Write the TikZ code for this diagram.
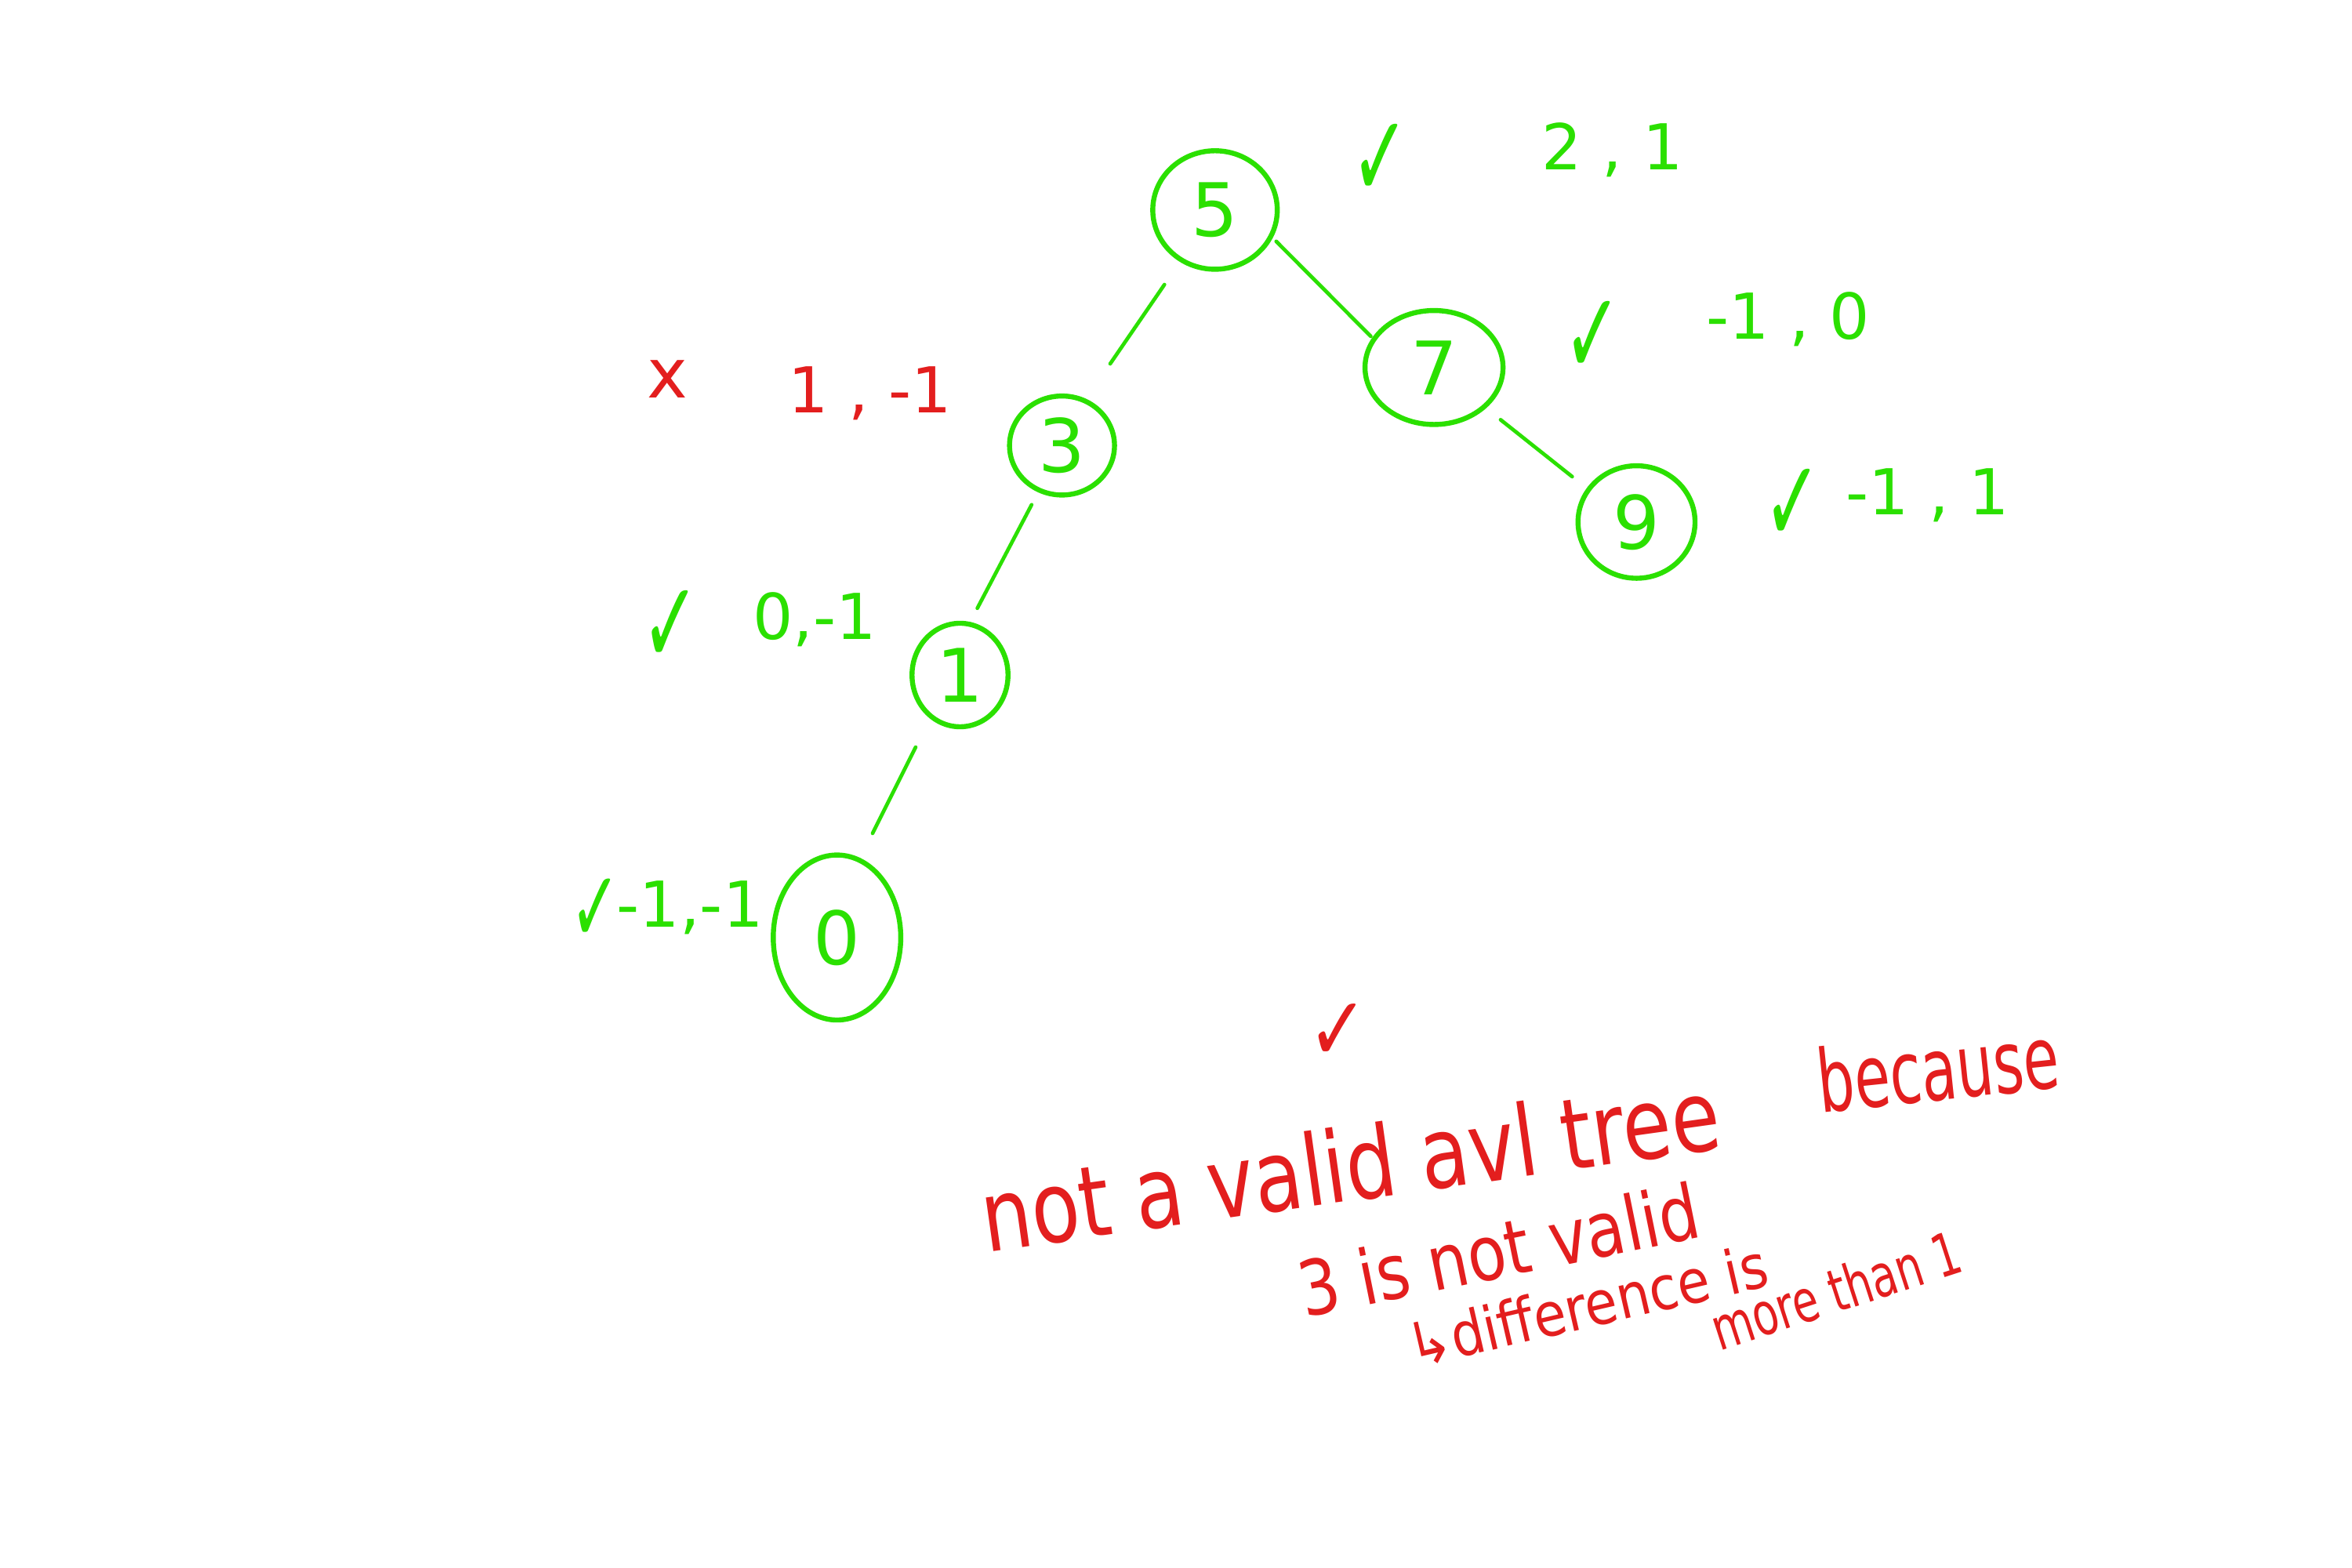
\documentclass[tikz,border=0pt]{standalone}
\usepackage{fontspec}
\setmainfont{DejaVu Sans}
\usepackage{graphicx}
\usetikzlibrary{shapes.geometric}
\definecolor{grn}{HTML}{2BE000}
\definecolor{rd}{HTML}{E31E1E}
\newcommand\fs[1]{\fontsize{#1}{#1}\selectfont}
\newcommand\mychk{\scalebox{0.6}[1]{✓}}
\newcommand\tall[2]{\scalebox{1}[#1]{#2}}
\begin{document}
\begin{tikzpicture}[
  tn/.style={ellipse, draw=grn, line width=0.95pt, inner sep=0pt, outer sep=0pt, text=grn, font=\fs{14}},
  edge/.style={draw=grn, line width=0.7pt, line cap=round},
  gl/.style={text=grn, inner sep=0pt, font=\fs{12}},
  rl/.style={text=rd, inner sep=0pt, font=\fs{12}},
  gck/.style={text=grn, inner sep=0pt, font=\fs{22}},
]
\useasboundingbox (0,0) rectangle (15.68,-10.45);
\fill[white] (0,0) rectangle (15.68,-10.45);

% tree nodes
\node[tn, minimum width=0.83cm, minimum height=0.79cm] (n5) at (8.10,-1.40) {5};
\node[tn, minimum width=0.92cm, minimum height=0.76cm] (n7) at (9.56,-2.45) {7};
\node[tn, minimum width=0.78cm, minimum height=0.75cm] (n9) at (10.91,-3.48) {9};
\node[tn, minimum width=0.70cm, minimum height=0.66cm] (n3) at (7.08,-2.97) {3};
\node[tn, minimum width=0.64cm, minimum height=0.69cm] (n1) at (6.40,-4.50) {1};
\node[tn, minimum width=0.85cm, minimum height=1.10cm] (n0) at (5.58,-6.25) {0};

% edges
\draw[edge, shorten <=0.2cm, shorten >=0.3cm] (n5.236) -- (n3.63);
\draw[edge, shorten <=0.05cm, shorten >=0.03cm] (n5.-25) -- (n7.155);
\draw[edge, shorten <=0.14cm, shorten >=0.14cm] (n7.-38) -- (n9.146);
\draw[edge, shorten <=0.11cm, shorten >=0.12cm] (n3.243) -- (n1.80);
\draw[edge, shorten <=0.23cm, shorten >=0.2cm] (n1.235) -- (n0.74);

% balance labels
\node[gck] (c5) at (9.20,-1.07) {\mychk};
\node[gl] (b5) at (10.75,-1.00) {2 , 1};
\node[gck] (c7) at (10.62,-2.25) {\mychk};
\node[gl] (b7) at (11.92,-2.13) {-1 , 0};
\node[gck] (c9) at (11.95,-3.37) {\mychk};
\node[gl] (b9) at (12.85,-3.30) {-1 , 1};
\node[rl, font=\fs{13}] (x3) at (4.45,-2.53) {x};
\node[rl] (b3) at (5.80,-2.62) {1 , -1};
\node[gck] (c1) at (4.47,-4.18) {\mychk};
\node[gl] (b1) at (5.43,-4.13) {0,-1};
\node[gck, font=\fs{19}] (c0) at (3.97,-6.07) {\mychk};
\node[gl] (b0) at (4.60,-6.05) {-1,-1};

% notes
\node[rl, font=\fs{17}] (rc) at (8.92,-6.88) {\scalebox{0.8}[1]{✓}};
\node[rl, font=\fs{15}, rotate=8] (t1) at (9.00,-7.76) {\tall{1.25}{not a valid avl tree}};
\node[rl, font=\fs{11}, rotate=6] (t2) at (12.92,-7.12) {\tall{1.5}{because}};
\node[rl, font=\fs{12}, rotate=11.5] (t3) at (9.99,-8.33) {\tall{1.2}{3 is not valid}};
\node[rl, font=\fs{10}, rotate=13] (t4) at (10.58,-8.70) {\tall{1.15}{↳difference is}};
\node[rl, font=\fs{8}, rotate=18] (t5) at (12.24,-8.60) {\tall{1.4}{more than 1}};
\end{tikzpicture}
\end{document}
